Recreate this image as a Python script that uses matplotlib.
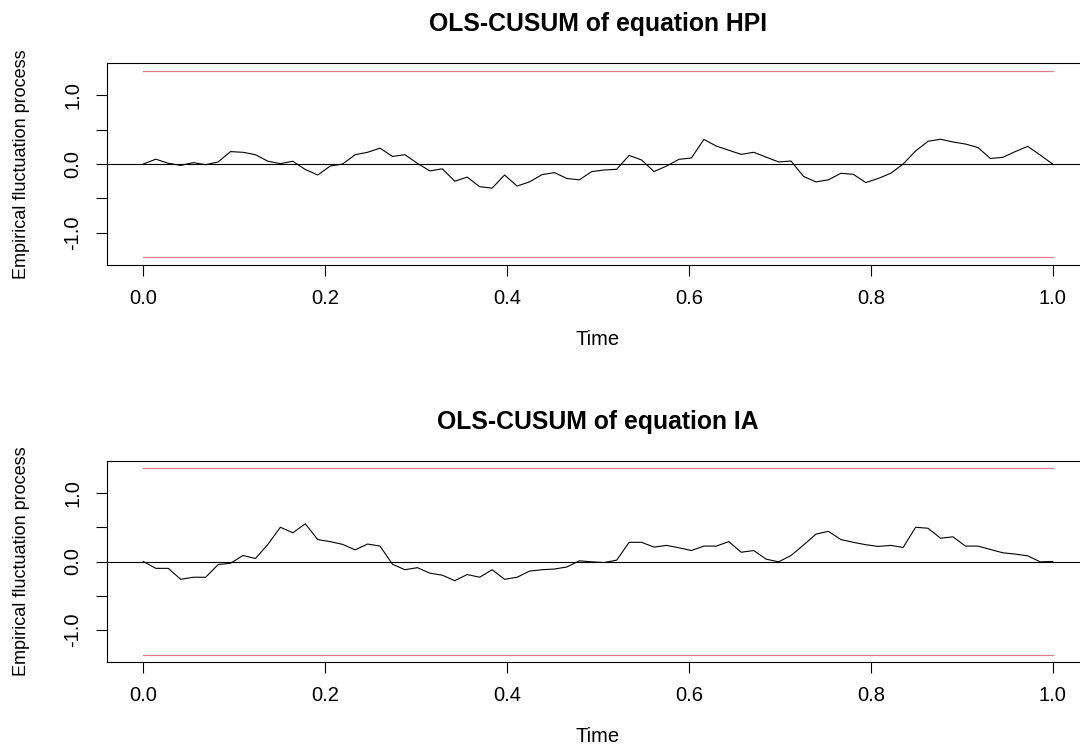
import numpy as np
import matplotlib
matplotlib.use("Agg")
from matplotlib import pyplot as plt

# OLS-CUSUM values (74 points on [0, 1])
hpi = [0.0, 0.07, 0.01, -0.02, 0.02, -0.01, 0.03, 0.18, 0.17, 0.135,
       0.04, 0.005, 0.04, -0.08, -0.16, -0.03, 0.0, 0.135, 0.17, 0.23,
       0.11, 0.135, 0.01, -0.10,
       -0.07, -0.25, -0.19, -0.33, -0.35, -0.16, -0.32, -0.26, -0.155, -0.125,
       -0.21, -0.23, -0.11, -0.087, -0.077, 0.125, 0.058, -0.11, -0.03, 0.068,
       0.087, 0.357, 0.26, 0.2, 0.14,
       0.17, 0.10, 0.03, 0.043, -0.18, -0.26, -0.23, -0.135, -0.15, -0.27,
       -0.21, -0.135, 0.0, 0.19, 0.33, 0.36, 0.32, 0.29, 0.24, 0.08,
       0.097, 0.18, 0.256, 0.13, 0.0]

ia = [0.0, -0.10, -0.10, -0.26, -0.23, -0.23, -0.045, -0.025, 0.088, 0.044,
      0.25, 0.50, 0.42, 0.55, 0.32, 0.29, 0.25, 0.17, 0.255, 0.225,
      -0.04, -0.12, -0.09, -0.17,
      -0.20, -0.28, -0.19, -0.23, -0.12, -0.26, -0.23, -0.14, -0.12, -0.11,
      -0.08, 0.01, -0.005, -0.015, 0.02, 0.28, 0.28, 0.21, 0.235, 0.2,
      0.16, 0.225, 0.225, 0.29, 0.135,
      0.16, 0.034, -0.005, 0.088, 0.24, 0.40, 0.44, 0.32, 0.28, 0.245,
      0.22, 0.235, 0.205, 0.50, 0.485, 0.34, 0.36, 0.225, 0.225, 0.176,
      0.127, 0.108, 0.083, -0.005, 0.0]

titles = ["OLS-CUSUM of equation HPI", "OLS-CUSUM of equation IA"]
boundary = 1.358  # 5% critical value of the CUSUM test

xticks = [0.0, 0.2, 0.4, 0.6, 0.8, 1.0]
yticks = [-1.0, -0.5, 0.0, 0.5, 1.0]

plt.rcParams['font.family'] = ['Liberation Sans', 'DejaVu Sans']

fig = plt.figure(figsize=(10.8, 7.46), dpi=100)
W, H = 1080, 746
# axes boxes in pixels: left, top, right, bottom
boxes = [(107, 63, 1089, 265), (107, 461, 1089, 662)]

for series, title, (l, t, r, b) in zip([hpi, ia], titles, boxes):
    ax = fig.add_axes([l / W, (H - b) / H, (r - l) / W, (b - t) / H])
    x = np.linspace(0, 1, len(series))
    ax.plot(x, series, color='black', lw=0.8)
    ax.axhline(0, color='black', lw=0.8)
    ax.plot([0, 1], [boundary, boundary], color='#E07A8C', lw=0.9)
    ax.plot([0, 1], [-boundary, -boundary], color='#E07A8C', lw=0.9)

    ax.set_xlim(-0.04, 1.04)
    ax.set_ylim(-1.467, 1.467)
    ax.set_xticks(xticks)
    ax.set_xticklabels(['%.1f' % v for v in xticks])
    ax.set_yticks(yticks)
    ax.set_yticklabels(['%.1f' % v if v != 0.5 and v != -0.5 else '' for v in yticks],
                       rotation=90, va='center')
    ax.tick_params(direction='out', length=8, width=0.8, labelsize=14.5)
    ax.tick_params(axis='x', pad=9)
    ax.tick_params(axis='y', pad=10)
    for s in ax.spines.values():
        s.set_linewidth(0.8)

    ax.set_title(title, fontsize=17.8, fontweight='bold', pad=23)
    ax.set_xlabel('Time', fontsize=14.5, labelpad=16)
    ax.set_ylabel('Empirical fluctuation process', fontsize=13, labelpad=24)

fig.savefig('out.png', dpi=100)
